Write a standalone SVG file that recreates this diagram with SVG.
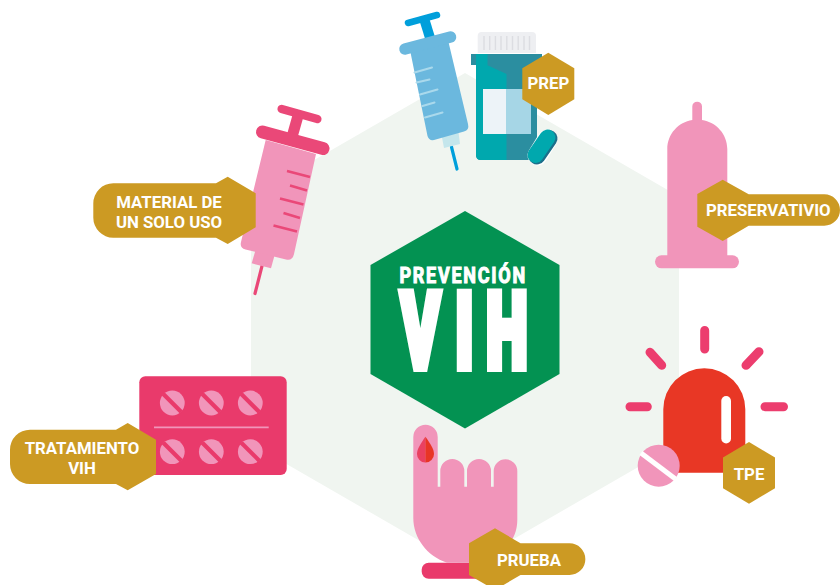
<svg xmlns="http://www.w3.org/2000/svg" width="840" height="585" viewBox="0 0 840 585">
<defs>
<style>
.gold{fill:#cc9a23}
.lbl{font-family:Roboto,"Liberation Sans",sans-serif;font-weight:700;font-size:16.8px;fill:#fff;text-anchor:middle}
.pink{fill:#f195ba}
.hot{stroke:#ea4878;fill:none;stroke-linecap:round}
.blue{stroke:#009fdb;fill:none;stroke-linecap:round}
.ray{stroke:#ec3d6e;stroke-width:9;stroke-linecap:round;fill:none}
.tick{stroke:#ea4878;stroke-width:2.6;fill:none}
.btick{stroke:#aad9ec;stroke-width:2;fill:none;stroke-linecap:round}
.cap{stroke:#dcdde2;stroke-width:1.4;fill:none}
.ti{fill:#f195ba}
.ts{stroke:#e93a6b;stroke-width:4.2;fill:none}
.hd{font-family:Roboto,"Liberation Sans",sans-serif;font-weight:700;fill:#fff;stroke:#fff;text-anchor:start;stroke-linejoin:miter}
</style>
<g id="tablet"><circle r="12.4" class="ti"/><path d="M-9-9L9 9" class="ts"/></g>
</defs>
<rect width="840" height="585" fill="#fff"/>
<g id="fondo"><path d="M465 73L679 196.500V443.500L465 567L251 443.500V196.500Z" fill="#f0f5f0"/></g>
<g id="connectors"></g>
<g id="centro">
<path d="M465 211L559.500 265V374L465 428.500L370.500 374V265Z" fill="#039252"/>
<text class="hd" transform="translate(399.500 282.600) scale(.8 1)" x="0" y="0" font-size="22.500" stroke-width="1.100" textLength="157" lengthAdjust="spacing">PREVENCIÓN</text>
<text class="hd" transform="translate(0 365.700) scale(.57 1)" x="705 800 854" y="0" font-size="100" stroke-width="11.800">VIH</text>
</g>
<g id="prep">
<g id="jeringa-azul">
<path d="M408 23L437 15" class="blue" stroke-width="6.500"/>
<path d="M424.500 20L431 41" stroke="#009fdb" stroke-width="10" fill="none"/>
<path d="M451.500 147L457 169" class="blue" stroke-width="3.200"/>
<path d="M441 132L458 128L460 144L444 148Z" fill="#c4e6ec"/>
<path d="M410 50L448 40L468 124Q469.500 130 464 131.500L434 140Q429 141 427.500 136Z" fill="#6bb8de"/>
<path d="M405 49L450.500 37" stroke="#6bb8de" stroke-width="11.500" stroke-linecap="round" fill="none"/>
<path d="M414.500 72.500L432 67.500M416.500 82.500L429.500 79.500M420 94.500L437.500 89.500M422.500 106L434.500 102.500M425 117.500L442.500 112.500" class="btick"/>
</g>
<g id="frasco">
<path d="M477.700 53V36Q477.700 32 481.700 32H532Q536 32 536 36V53Z" fill="#eeeff2"/>
<path d="M484 36V50M489.700 36V50M495.400 36V50M501 36V50M506.800 36V50M512.500 36V50M518.200 36V50M524 36V50M529.500 36V50" class="cap"/>
<path d="M476 60H537V155Q537 160 532 160H481Q476 160 476 155Z" fill="#2b8ea0"/>
<path d="M476 65H487L506.500 74V160H481Q476 160 476 155Z" fill="#00a8ae"/>
<rect x="471" y="54" width="71" height="11" fill="#2b8ea0"/>
<rect x="476" y="54" width="11.500" height="11" fill="#00a8ae"/>
<rect x="483" y="89" width="23" height="45" fill="#edf3f8"/>
<rect x="506" y="89" width="25" height="45" fill="#a6d6e6"/>
<path d="M537.500 155.500L547 140" stroke="#fff" stroke-width="20" stroke-linecap="round" fill="none"/>
<path d="M537 156L549 138.500" stroke="#1c6f8a" stroke-width="17" stroke-linecap="round" fill="none"/>
<path d="M535.500 155L547.500 137.500" stroke="#00a8ae" stroke-width="16" stroke-linecap="round" fill="none"/>
</g>
<path class="gold" d="M548.300 52.700L574.300 68.300V99.300L548.300 115L522.300 99.300V68.300Z"/>
<text class="lbl" x="548.300" y="88.700">PREP</text>
</g>
<g id="material">
<g id="jeringa-rosa">
<path d="M281.700 109L317.300 119" class="hot" stroke-width="8.500"/>
<path d="M298.500 114L292 137" stroke="#ea4878" stroke-width="11" fill="none"/>
<path d="M262 266L255 293.500" class="hot" stroke-width="3.200"/>
<path d="M257 245L276 250L271 268.300L251.700 263.300Z" class="pink"/>
<path d="M265.700 140L316 154L294 254Q292.500 261 286 259.500L245.500 249.500Q239.500 248 241 242Z" class="pink"/>
<path d="M262.500 132L323 148.500" class="hot" stroke-width="13"/>
<path d="M287 171L310 177M290 185.500L307 190.500M280 198.500L303.500 204.500M283.500 213L300 218M273.500 225.500L297 231.500" class="tick"/>
</g>
<path class="gold" d="M113.300 183.300H216L227.700 176.700L255.700 193.300V227.300L227.700 244L216 237.700H113.300A20 20 0 0 1 93.300 217.700V203.300A20 20 0 0 1 113.300 183.300Z"/>
<text class="lbl" x="169" y="207.700">MATERIAL DE</text>
<text class="lbl" x="169" y="227.700">UN SOLO USO</text>
</g>
<g id="preservativo">
<path class="pink" d="M692.300 120V106.500a4.850 4.850 0 0 1 9.700 0V120C716 122 727.300 134 727.300 149V260H667.300V149C667.300 134 678.500 122 692.300 120Z"/>
<rect class="pink" x="655" y="255.300" width="84" height="13" rx="6.500"/>
<path class="gold" d="M722.700 179.700L748.700 194.300H824.300A15.700 15.700 0 0 1 824.300 225.700H748.700L722.700 241L697.300 226.700V194Z"/>
<text class="lbl" x="768.300" y="215.700">PRESERVATIVIO</text>
</g>
<g id="tpe">
<path d="M704.700 330.500V349M650 352.300L661.700 365.300M759 351.700L746 365.300M630 406.700H647.300M765 406.700H783.500" class="ray"/>
<path d="M663.300 472.700V409.300A41 41 0 0 1 745.300 409.300V472.700Z" fill="#e83725"/>
<rect x="721.300" y="396" width="9.700" height="47.500" rx="4.850" fill="#fff"/>
<circle cx="658.700" cy="465.700" r="21" class="pink"/>
<path d="M641 453L675.500 479" stroke="#fff" stroke-width="5" fill="none"/>
<path class="gold" d="M749 442L775 457.500V488.300L749 503.700L723 488.300V457.500Z"/>
<text class="lbl" x="749" y="480">TPE</text>
</g>
<g id="prueba">
<rect x="421.700" y="562.700" width="80" height="16" rx="7" fill="#e93a6b"/>
<path class="pink" d="M413.300 437a12.200 12.200 0 0 1 24.400 0V486.700H440.300V471a12 12 0 0 1 24 0V486.700H467V471a12 12 0 0 1 24 0V486.700H493.700V471a11.800 11.800 0 0 1 23.600 0V520C517.300 545 495 562.700 470 562.700H447C427 556 413.300 538 413.300 518Z"/>
<path d="M425.400 436.700C421 443 417 449 417 454a8.400 8.400 0 0 0 8.400 8.600Z" fill="#ea4060"/>
<path d="M425.400 436.700C430 443 434 449 434 454a8.600 8.600 0 0 1-8.600 8.600Z" fill="#e83525"/>
<path class="gold" d="M495 528.300L520.500 543.300H569.500A15.850 15.850 0 0 1 569.500 575H520.500L495 590L469 575V543.300Z"/>
<text class="lbl" x="529" y="565.700">PRUEBA</text>
</g>
<g id="tratamiento">
<rect x="139.300" y="376.300" width="147.400" height="98.700" rx="6" fill="#e93a6b"/>
<path d="M154 427.300H268.700" stroke="#f195ba" stroke-width="1.800" fill="none"/>
<use href="#tablet" x="172.300" y="403"/>
<use href="#tablet" x="211.300" y="403"/>
<use href="#tablet" x="250.300" y="403"/>
<use href="#tablet" x="172.300" y="451.700"/>
<use href="#tablet" x="211.300" y="451.700"/>
<use href="#tablet" x="250.300" y="451.700"/>
<path class="gold" d="M30 429.700H116L127.700 423L156 439.700V474L127.700 490.300L116 484H30A20 20 0 0 1 10 464V449.700A20 20 0 0 1 30 429.700Z"/>
<text class="lbl" x="82" y="454.300">TRATAMIENTO</text>
<text class="lbl" x="82" y="473.700">VIH</text>
</g>
</svg>
